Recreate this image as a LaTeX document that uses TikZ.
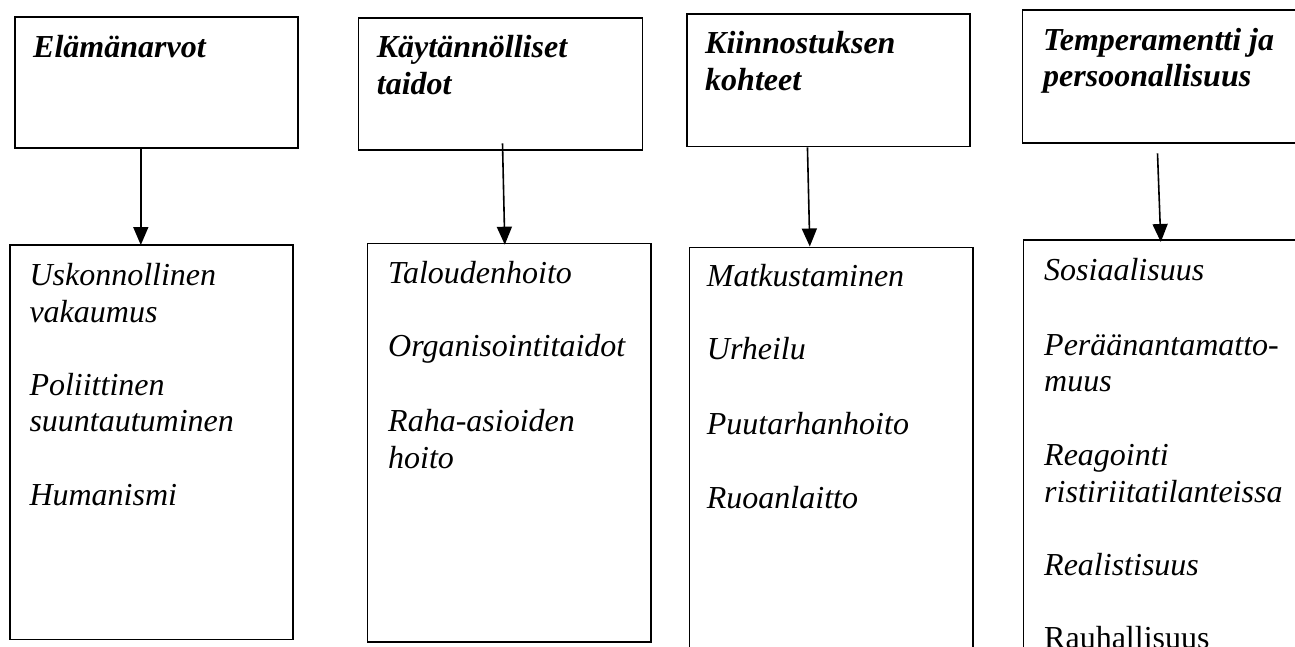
\documentclass[tikz,border=0pt]{standalone}
\usepackage{fontspec}
\setmainfont{Liberation Serif}
\usetikzlibrary{arrows.meta}
\begin{document}
\begin{tikzpicture}[x=1pt,y=-1pt,
  box/.style={draw,line width=1.6pt,inner sep=0,anchor=north west},
  hd/.style={anchor=base west,inner sep=0,font=\fontsize{32}{36.75}\selectfont\bfseries\itshape},
  it/.style={anchor=base west,inner sep=0,font=\fontsize{32}{36.75}\selectfont\itshape},
  rm/.style={anchor=base west,inner sep=0,font=\fontsize{32}{36.75}\selectfont},
  arr/.style={line width=1.6pt,-{Triangle[length=18pt,width=15pt]}}]
\useasboundingbox (0,0) rectangle (1295,646);
\clip (0,0) rectangle (1295,646);
% upper boxes
\node[box,minimum width=283pt,minimum height=131pt] (b1) at (14,16) {};
\node[box,minimum width=284pt,minimum height=131.7pt] (b2) at (357.7,17.3) {};
\node[box,minimum width=283.3pt,minimum height=132.4pt] (b3) at (686,13.3) {};
\node[box,minimum width=288.3pt,minimum height=133pt] (b4) at (1021.7,9.3) {};
% lower boxes
\node[box,minimum width=283pt,minimum height=394.5pt] (l1) at (9,244) {};
\node[box,minimum width=283.5pt,minimum height=398.6pt] (l2) at (366.5,242.7) {};
\node[box,minimum width=283.5pt,minimum height=420pt] (l3) at (688.5,246.5) {};
\node[box,minimum width=287.3pt,minimum height=460pt] (l4) at (1022.7,239.3) {};
% arrows
\draw[arr] ([xshift=-15.5pt]b1.south) -- ([xshift=-10.5pt,yshift=-1pt]l1.north);
\draw[arr] ([xshift=2pt,yshift=7.3pt]b2.south) -- ([xshift=-4.25pt,yshift=-2pt]l2.north);
\draw[arr] ([xshift=-21pt]b3.south) -- ([xshift=-21.25pt]l3.north);
\draw[arr] ([xshift=-9.15pt,yshift=-9.4pt]b4.south) -- ([xshift=-6.35pt,yshift=-2.7pt]l4.north);
% headings
\node[hd] (h1) at (33,57) {Elämänarvot};
\node[hd] (h2a) at (376.7,57) {Käytännölliset};
\node[hd] (h2b) at (376.7,94) {taidot};
\node[hd] (h3a) at (705,53) {Kiinnostuksen};
\node[hd] (h3b) at (705,90) {kohteet};
\node[hd] (h4a) at (1043,50) {Temperamentti ja};
\node[hd] (h4b) at (1043,86) {persoonallisuus};
% column 1
\node[it] (c1a) at (29.3,285) {Uskonnollinen};
\node[it] (c1b) at (29.3,322) {vakaumus};
\node[it] (c1c) at (29.3,395) {Poliittinen};
\node[it] (c1d) at (29.3,431) {suuntautuminen};
\node[it] (c1e) at (29.3,505) {Humanismi};
% column 2
\node[it] (c2a) at (388,283) {Taloudenhoito};
\node[it] (c2b) at (388,356) {Organisointitaidot};
\node[it] (c2c) at (388,431) {Raha-asioiden};
\node[it] (c2d) at (388,468) {hoito};
% column 3
\node[it] (c3a) at (706.7,286.7) {Matkustaminen};
\node[it] (c3b) at (706.7,359) {Urheilu};
\node[it] (c3c) at (706.7,434) {Puutarhanhoito};
\node[it] (c3d) at (706.7,508) {Ruoanlaitto};
% column 4
\node[it] (c4a) at (1044,280) {Sosiaalisuus};
\node[it] (c4b) at (1044,355) {Peräänantamatto-};
\node[it] (c4c) at (1044,391) {muus};
\node[it] (c4d) at (1044,465) {Reagointi};
\node[it] (c4e) at (1044,502) {ristiriitatilanteissa};
\node[it] (c4f) at (1044,575) {Realistisuus};
\node[rm] (c4g) at (1044,648) {Rauhallisuus};
\end{tikzpicture}
\end{document}
